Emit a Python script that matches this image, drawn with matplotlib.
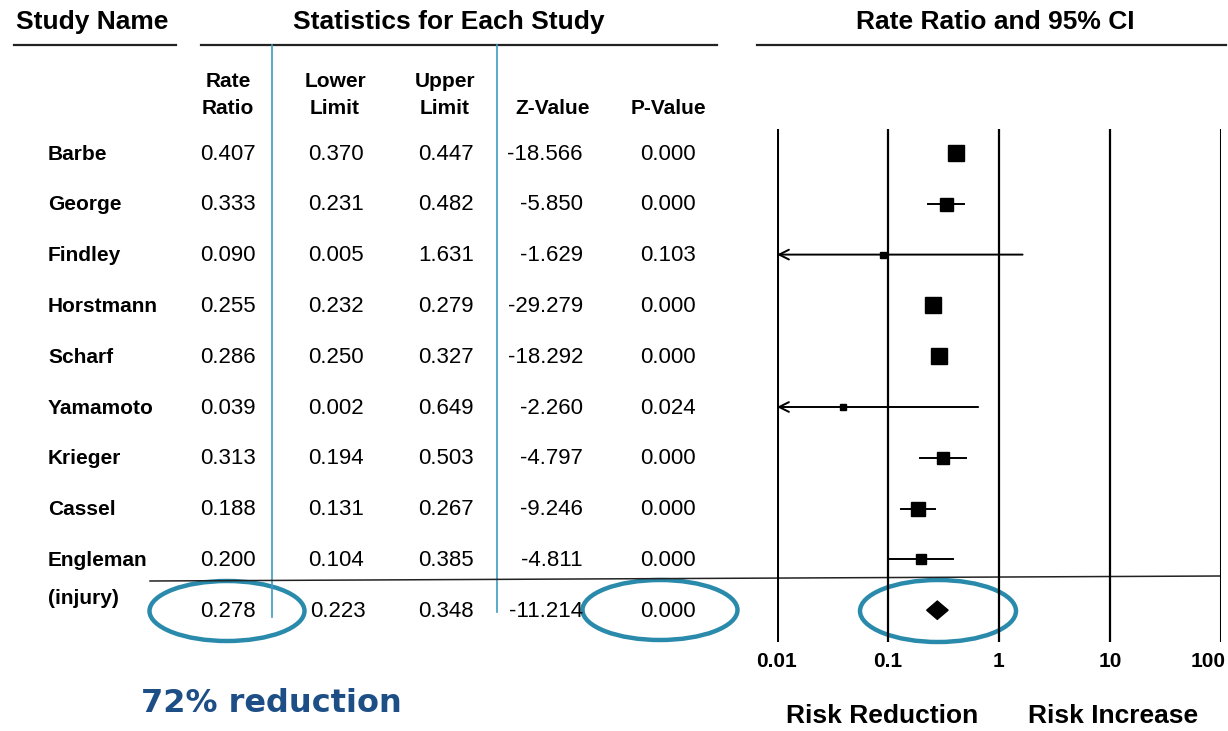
import matplotlib
matplotlib.use("Agg")
import matplotlib.pyplot as plt
from matplotlib.patches import Ellipse, Polygon
from matplotlib.transforms import offset_copy
import numpy as np

# study table
studies = ["Barbe", "George", "Findley", "Horstmann", "Scharf",
           "Yamamoto", "Krieger", "Cassel", "Engleman"]
rate_ratio = [0.407, 0.333, 0.090, 0.255, 0.286, 0.039, 0.313, 0.188, 0.200]
lower_lim = [0.370, 0.231, 0.005, 0.232, 0.250, 0.002, 0.194, 0.131, 0.104]
upper_lim = [0.447, 0.482, 1.631, 0.279, 0.327, 0.649, 0.503, 0.267, 0.385]
z_value = [-18.566, -5.850, -1.629, -29.279, -18.292, -2.260, -4.797, -9.246, -4.811]
p_value = [0.000, 0.000, 0.103, 0.000, 0.000, 0.024, 0.000, 0.000, 0.000]
rel_weight = [16, 13, 6, 16, 16, 6, 12, 14, 10]

# pooled result
pooled = {"rr": 0.278, "lo": 0.223, "hi": 0.348, "z": -11.214, "p": 0.000}

ticks = [0.01, 0.1, 1, 10, 100]
tick_labels = ["0.01", "0.1", "1", "10", "100"]

W, H = 1228, 731
TEAL = "#2a8aab"
NARROW = ["Liberation Sans Narrow", "Liberation Sans", "DejaVu Sans"]

fig = plt.figure(figsize=(W / 100, H / 100), dpi=100)
bg = fig.add_axes([0, 0, 1, 1])
bg.set_xlim(0, W)
bg.set_ylim(H, 0)
bg.axis("off")

# headers
bg.text(92, 22, "Study Name", ha="center", va="center", fontsize=19,
        fontweight="bold", family=NARROW)
bg.text(449, 22, "Statistics for Each Study", ha="center", va="center",
        fontsize=19, fontweight="bold", family=NARROW)
bg.text(995, 22, "Rate Ratio and 95% CI", ha="center", va="center",
        fontsize=19, fontweight="bold", family=NARROW)
for x0, x1 in [(14, 176), (201, 717), (757, 1226)]:
    bg.plot([x0, x1], [45, 45], color="#222222", lw=1.6)

# column headers
col_hdr = [(228, "Rate\nRatio"), (335, "Lower\nLimit"), (445, "Upper\nLimit"),
           (553, "Z-Value"), (668, "P-Value")]
for x, t in col_hdr:
    bg.text(x, 118, t, ha="center", va="bottom", fontsize=15,
            fontweight="bold", family=NARROW, linespacing=1.55)

# table divider lines
bg.plot([272, 272], [45, 617], color="#3d9cc2", lw=1.2)
bg.plot([497, 497], [45, 612], color="#3d9cc2", lw=1.2)

row_y = [153 + 50.8 * i for i in range(len(studies) + 1)]

for i, name in enumerate(studies):
    y = row_y[i] + 1
    bg.text(48, y, name, ha="left", va="center", fontsize=15,
            fontweight="bold", family=NARROW)
    bg.text(228, y, f"{rate_ratio[i]:.3f}", ha="center", va="center",
            fontsize=16, family=NARROW)
    bg.text(336, y, f"{lower_lim[i]:.3f}", ha="center", va="center",
            fontsize=16, family=NARROW)
    bg.text(446, y, f"{upper_lim[i]:.3f}", ha="center", va="center",
            fontsize=16, family=NARROW)
    bg.text(583, y, f"{z_value[i]:.3f}", ha="right", va="center",
            fontsize=16, family=NARROW)
    bg.text(668, y, f"{p_value[i]:.3f}", ha="center", va="center",
            fontsize=16, family=NARROW)

ys = row_y[-1] + 1
bg.text(48, 598, "(injury)", ha="left", va="center", fontsize=15,
        fontweight="bold", family=NARROW)
bg.text(228, ys, f"{pooled['rr']:.3f}", ha="center", va="center", fontsize=16, family=NARROW)
bg.text(338, ys, f"{pooled['lo']:.3f}", ha="center", va="center", fontsize=16, family=NARROW)
bg.text(446, ys, f"{pooled['hi']:.3f}", ha="center", va="center", fontsize=16, family=NARROW)
bg.text(583, ys, f"{pooled['z']:.3f}", ha="right", va="center", fontsize=16, family=NARROW)
bg.text(668, ys, f"{pooled['p']:.3f}", ha="center", va="center", fontsize=16, family=NARROW)

# separator above pooled row
bg.plot([150, 1220], [581, 576], color="#222222", lw=1.1)

bg.text(271, 704, "72% reduction", ha="center", va="center", fontsize=23,
        fontweight="bold", color="#1d4f86")

# forest plot
top, bot = 129, 642
ax = fig.add_axes([777 / W, (H - bot) / H, 444 / W, (bot - top) / H])
ax.set_xscale("log")
ax.set_xlim(0.01, 100)
ax.set_ylim((bot - 153) / 50.8, (top - 153) / 50.8)
ax.axis("off")
ax.patch.set_alpha(0)

for t in ticks:
    lw = 2.2 if t in (0.01, 100) else 1.6
    ax.axvline(t, color="black", lw=lw)

xmin = ax.get_xlim()[0]
for i in range(len(studies)):
    lo, hi, rr = lower_lim[i], upper_lim[i], rate_ratio[i]
    if lo < xmin:
        ax.annotate("", xy=(xmin, i), xytext=(hi, i),
                    arrowprops=dict(arrowstyle="->,head_length=0.7,head_width=0.35",
                                    color="black", lw=1.4, shrinkA=0, shrinkB=0))
    else:
        ax.plot([lo, hi], [i, i], color="black", lw=1.4)
    ax.plot(rr, i, marker="s", color="black", markersize=rel_weight[i] * 0.72,
            linestyle="none")

# pooled diamond
n = len(studies)
dh = 0.18
diamond = Polygon([(pooled["lo"], n), (pooled["rr"], n - dh),
                   (pooled["hi"], n), (pooled["rr"], n + dh)],
                  closed=True, color="black")
ax.add_patch(diamond)

xtr = ax.get_xaxis_transform()
for t, lab in zip(ticks, tick_labels):
    if t == ticks[-1]:
        tr, ha = offset_copy(xtr, fig=fig, x=5, y=0, units="dots"), "right"
    else:
        tr, ha = xtr, "center"
    ax.text(t, -0.02, lab, transform=tr, ha=ha, va="top", fontsize=15,
            fontweight="bold", family=NARROW, clip_on=False)

bg.text(882, 716, "Risk Reduction", ha="center", va="center", fontsize=19,
        fontweight="bold", family=NARROW)
bg.text(1113, 716, "Risk Increase", ha="center", va="center", fontsize=19,
        fontweight="bold", family=NARROW)

# highlight ellipses
for cx, cy, w, h in [(227, 611, 155, 60), (660, 610, 155, 60), (938, 611, 156, 62)]:
    bg.add_patch(Ellipse((cx, cy), w, h, fill=False, edgecolor=TEAL, lw=3.2))

fig.savefig("out.png", dpi=100)
